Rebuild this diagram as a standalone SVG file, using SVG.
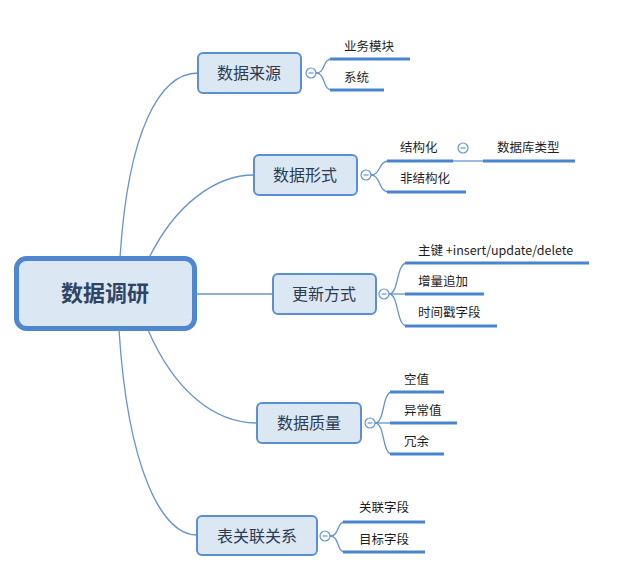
<svg xmlns="http://www.w3.org/2000/svg" width="620" height="584" viewBox="0 0 620 584">
<style>
.bg{fill:#ffffff}
.node{fill:#dce7f4;stroke:#5b8fd3;stroke-width:2}
.root{fill:#dce7f4;stroke:#4f86d0;stroke-width:5}
.nt{font-family:"Noto Sans CJK SC","Noto Sans",sans-serif;font-size:16px;fill:#2b3b52;text-anchor:middle}
.rt{font-family:"Noto Sans CJK SC","Noto Sans",sans-serif;font-size:22px;font-weight:bold;fill:#2e4566;text-anchor:middle}
.ct{font-family:"Noto Sans CJK SC","Noto Sans",sans-serif;font-size:12.5px;fill:#1e1e1e}
.line{fill:none;stroke:#6494d4;stroke-width:1.3}
.ul{fill:none;stroke:#4a84cf;stroke-width:3}
.col{fill:#ffffff;stroke:#6494d4;stroke-width:1.2}
.minus{stroke:#6494d4;stroke-width:1.2}
</style>
<rect class="bg" x="0" y="0" width="620" height="584"/>
<g id="connectors">
<path class="line" d="M120,258 C128,130 160,73 198,73"/>
<path class="line" d="M149,258 C175,205 215,175 254,175"/>
<path class="line" d="M196,294 H273"/>
<path class="line" d="M148,330 C175,392 215,423 257,423"/>
<path class="line" d="M119,330 C128,470 162,535 197,535"/>
<path class="line" d="M316,73 C326,73 322,59 332,59"/>
<path class="line" d="M316,73 C326,73 322,90 332,90"/>
<path class="line" d="M371,175 C381,175 378,161 389,161"/>
<path class="line" d="M371,175 C381,175 378,192 389,192"/>
<path class="line" d="M453,161 H483"/>
<path class="line" d="M389,294 C399,294 396,263 407,263"/>
<path class="line" d="M389,294 H407"/>
<path class="line" d="M389,294 C399,294 396,326 407,326"/>
<path class="line" d="M375,423 C385,423 382,392 392,392"/>
<path class="line" d="M375,423 H392"/>
<path class="line" d="M375,423 C385,423 382,454 392,454"/>
<path class="line" d="M330,536 C340,536 336,522 345,522"/>
<path class="line" d="M330,536 C340,536 336,552 345,552"/>
</g>
<g id="root">
<rect class="root" x="16.5" y="258.5" width="178" height="70" rx="10"/>
<text class="rt" x="105" y="301">数据调研</text>
</g>
<g id="n1">
<rect class="node" x="198" y="53" width="103" height="40" rx="5"/>
<text class="nt" x="249" y="79">数据来源</text>
<circle class="col" cx="311" cy="73" r="5"/>
<path class="minus" d="M308.5,73 H313.5"/>
</g>
<g id="n1a"><path class="ul" d="M330,59 H410"/><text class="ct" x="344" y="51">业务模块</text></g>
<g id="n1b"><path class="ul" d="M330,90 H384"/><text class="ct" x="344" y="82">系统</text></g>
<g id="n2">
<rect class="node" x="254" y="155" width="103" height="40" rx="5"/>
<text class="nt" x="305" y="181">数据形式</text>
<circle class="col" cx="366" cy="175" r="5"/>
<path class="minus" d="M363.5,175 H368.5"/>
</g>
<g id="n2a"><path class="ul" d="M387,161 H453"/><text class="ct" x="400" y="152">结构化</text>
<circle class="col" cx="463" cy="148" r="5"/>
<path class="minus" d="M460.5,148 H465.5"/></g>
<g id="n2a1"><path class="ul" d="M483,161 H575"/><text class="ct" x="497" y="152">数据库类型</text></g>
<g id="n2b"><path class="ul" d="M387,192 H466"/><text class="ct" x="400" y="183">非结构化</text></g>
<g id="n3">
<rect class="node" x="273" y="274" width="103" height="40" rx="5"/>
<text class="nt" x="324" y="300">更新方式</text>
<circle class="col" cx="384" cy="294" r="5"/>
<path class="minus" d="M381.5,294 H386.5"/>
</g>
<g id="n3a"><path class="ul" d="M405,263 H589"/><text class="ct" x="418" y="255">主键 +insert/update/delete</text></g>
<g id="n3b"><path class="ul" d="M405,294 H484"/><text class="ct" x="418" y="286">增量追加</text></g>
<g id="n3c"><path class="ul" d="M405,326 H497"/><text class="ct" x="418" y="317">时间戳字段</text></g>
<g id="n4">
<rect class="node" x="257" y="403" width="104" height="40" rx="5"/>
<text class="nt" x="309" y="429">数据质量</text>
<circle class="col" cx="370" cy="423" r="5"/>
<path class="minus" d="M367.5,423 H372.5"/>
</g>
<g id="n4a"><path class="ul" d="M390,392 H444"/><text class="ct" x="404" y="384">空值</text></g>
<g id="n4b"><path class="ul" d="M390,423 H457"/><text class="ct" x="404" y="415">异常值</text></g>
<g id="n4c"><path class="ul" d="M390,454 H444"/><text class="ct" x="404" y="446">冗余</text></g>
<g id="n5">
<rect class="node" x="197" y="516" width="120" height="39" rx="5"/>
<text class="nt" x="257" y="542">表关联关系</text>
<circle class="col" cx="325" cy="536" r="5"/>
<path class="minus" d="M322.5,536 H327.5"/>
</g>
<g id="n5a"><path class="ul" d="M343,522 H425"/><text class="ct" x="359" y="512">关联字段</text></g>
<g id="n5b"><path class="ul" d="M343,552 H425"/><text class="ct" x="359" y="544">目标字段</text></g>
</svg>
